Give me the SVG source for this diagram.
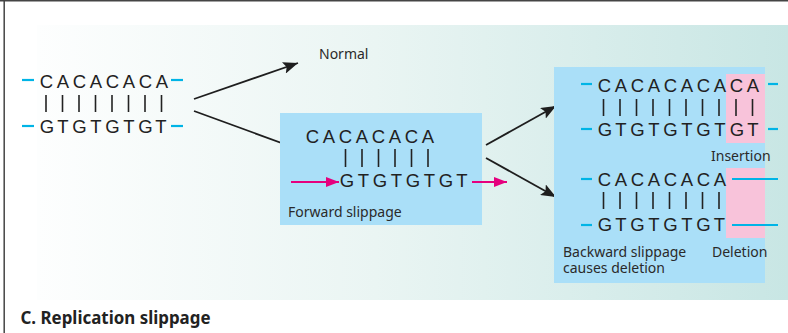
<svg xmlns="http://www.w3.org/2000/svg" width="788" height="333" viewBox="0 0 788 333">
<defs>
<linearGradient id="bg" x1="37" y1="0" x2="788" y2="0" gradientUnits="userSpaceOnUse">
<stop offset="0" stop-color="#fdfefe"/>
<stop offset="0.45" stop-color="#eaf5f3"/>
<stop offset="1" stop-color="#c8e6e4"/>
</linearGradient>
<marker id="ah" markerUnits="userSpaceOnUse" markerWidth="16" markerHeight="12" refX="15" refY="6" orient="auto">
<path d="M0,0 L15,6 L0,12 L3,6 Z" fill="#1e1e1e"/>
</marker>
<marker id="mh" markerUnits="userSpaceOnUse" markerWidth="14" markerHeight="10" refX="13" refY="5" orient="auto">
<path d="M0,0 L13,5 L0,10 Z" fill="#e5007d"/>
</marker>
</defs>
<style>
.dna{font-family:"Liberation Sans",Arial,sans-serif;font-size:18.5px;fill:#222;text-anchor:middle}
.lbl{font-family:"Noto Sans","Open Sans",sans-serif;font-size:14px;fill:#2a2a2a}
.bar{stroke:#222;stroke-width:1.6}
.dash{stroke:#00b4e6;stroke-width:2.2}
.box{fill:#aadff8}
.pink{fill:#f8c3da}
.arr{stroke:#1e1e1e;stroke-width:1.8;fill:none}
.marr{stroke:#e5007d;stroke-width:1.8;fill:none}
</style>
<rect x="0" y="0" width="788" height="333" fill="#ffffff"/>
<rect x="37" y="25" width="751" height="275" fill="url(#bg)"/>
<line x1="0" y1="0.7" x2="788" y2="0.7" stroke="#444" stroke-width="1.5"/>
<line x1="4.2" y1="0" x2="4.2" y2="333" stroke="#444" stroke-width="1.5"/>

<g id="connectors">
<line class="arr" x1="194" y1="99" x2="298" y2="63" marker-end="url(#ah)"/>
<line class="arr" x1="194" y1="111" x2="298" y2="149" marker-end="url(#ah)"/>
<line class="arr" x1="486" y1="145" x2="556" y2="106" marker-end="url(#ah)"/>
<line class="arr" x1="486" y1="158" x2="556" y2="197" marker-end="url(#ah)"/>
</g>

<g id="original">
<line class="dash" x1="22" y1="80" x2="34" y2="80"/>
<line class="dash" x1="171" y1="80" x2="183" y2="80"/>
<line class="dash" x1="22" y1="126" x2="34" y2="126"/>
<line class="dash" x1="171" y1="126" x2="183" y2="126"/>
<text class="dna" x="46.5 63 79.5 96 112.5 129 145.5 162" y="88">CACACACA</text>
<g class="bar">
<line x1="46" y1="95" x2="46" y2="112"/><line x1="62.5" y1="95" x2="62.5" y2="112"/><line x1="79" y1="95" x2="79" y2="112"/><line x1="95.5" y1="95" x2="95.5" y2="112"/><line x1="112" y1="95" x2="112" y2="112"/><line x1="128.5" y1="95" x2="128.5" y2="112"/><line x1="145" y1="95" x2="145" y2="112"/><line x1="161.5" y1="95" x2="161.5" y2="112"/>
</g>
<text class="dna" x="47 63 79.5 96 112.5 129 145.5 161" y="133">GTGTGTGT</text>
</g>

<g id="normal">
<text class="lbl" x="319" y="59">Normal</text>
</g>

<g id="forward">
<rect class="box" x="280" y="113" width="202" height="112"/>
<text class="dna" x="312.5 329 345.5 362 378.5 395 411.5 428" y="143">CACACACA</text>
<g class="bar">
<line x1="345.5" y1="149" x2="345.5" y2="167"/><line x1="362" y1="149" x2="362" y2="167"/><line x1="378.5" y1="149" x2="378.5" y2="167"/><line x1="395" y1="149" x2="395" y2="167"/><line x1="411.5" y1="149" x2="411.5" y2="167"/><line x1="428" y1="149" x2="428" y2="167"/>
</g>
<text class="dna" x="347 363.5 380 396.5 413 429.5 446 462" y="187">GTGTGTGT</text>
<line class="marr" x1="291" y1="182" x2="339" y2="182" marker-end="url(#mh)"/>
<line class="marr" x1="472" y1="182" x2="507" y2="182" marker-end="url(#mh)"/>
<text class="lbl" x="288" y="217">Forward slippage</text>
</g>

<g id="results">
<rect class="box" x="554" y="67" width="211" height="216"/>
<rect class="pink" x="726" y="74" width="39" height="69"/>
<rect class="pink" x="726" y="168" width="39" height="70"/>
<line class="dash" x1="581" y1="84" x2="592" y2="84"/>
<line class="dash" x1="768" y1="84" x2="778" y2="84"/>
<line class="dash" x1="581" y1="129" x2="592" y2="129"/>
<line class="dash" x1="768" y1="129" x2="778" y2="129"/>
<text class="dna" x="604.5 621 637.5 654 670.5 687 703.5 720 736.5 753" y="92">CACACACACA</text>
<g class="bar">
<line x1="603.5" y1="99" x2="603.5" y2="116"/><line x1="620" y1="99" x2="620" y2="116"/><line x1="636.5" y1="99" x2="636.5" y2="116"/><line x1="653" y1="99" x2="653" y2="116"/><line x1="669.5" y1="99" x2="669.5" y2="116"/><line x1="686" y1="99" x2="686" y2="116"/><line x1="702.5" y1="99" x2="702.5" y2="116"/><line x1="719" y1="99" x2="719" y2="116"/><line x1="736" y1="99" x2="736" y2="116"/><line x1="752.5" y1="99" x2="752.5" y2="116"/>
</g>
<text class="dna" x="605 621 637.5 654 670.5 687 703.5 720 737 753" y="136">GTGTGTGTGT</text>
<text class="lbl" x="711" y="161">Insertion</text>

<line class="dash" x1="581" y1="179" x2="592" y2="179"/>
<line class="dash" x1="732" y1="179" x2="778" y2="179"/>
<line class="dash" x1="581" y1="225" x2="592" y2="225"/>
<line class="dash" x1="732" y1="225" x2="778" y2="225"/>
<text class="dna" x="604.5 621 637.5 654 670.5 687 703.5 720" y="186">CACACACA</text>
<g class="bar">
<line x1="603.5" y1="192" x2="603.5" y2="209"/><line x1="620" y1="192" x2="620" y2="209"/><line x1="636.5" y1="192" x2="636.5" y2="209"/><line x1="653" y1="192" x2="653" y2="209"/><line x1="669.5" y1="192" x2="669.5" y2="209"/><line x1="686" y1="192" x2="686" y2="209"/><line x1="702.5" y1="192" x2="702.5" y2="209"/><line x1="719" y1="192" x2="719" y2="209"/>
</g>
<text class="dna" x="605 621 637.5 654 670.5 687 703.5 719.5" y="231">GTGTGTGT</text>
<text class="lbl" x="563" y="257">Backward slippage<tspan x="563" dy="16">causes deletion</tspan></text>
<text class="lbl" x="712" y="257">Deletion</text>
</g>

<g id="title">
<text x="20.5" y="324" font-family="'Noto Sans','Open Sans',sans-serif" font-size="17" font-weight="bold" fill="#222" textLength="190" lengthAdjust="spacingAndGlyphs">C. Replication slippage</text>
</g>
</svg>
